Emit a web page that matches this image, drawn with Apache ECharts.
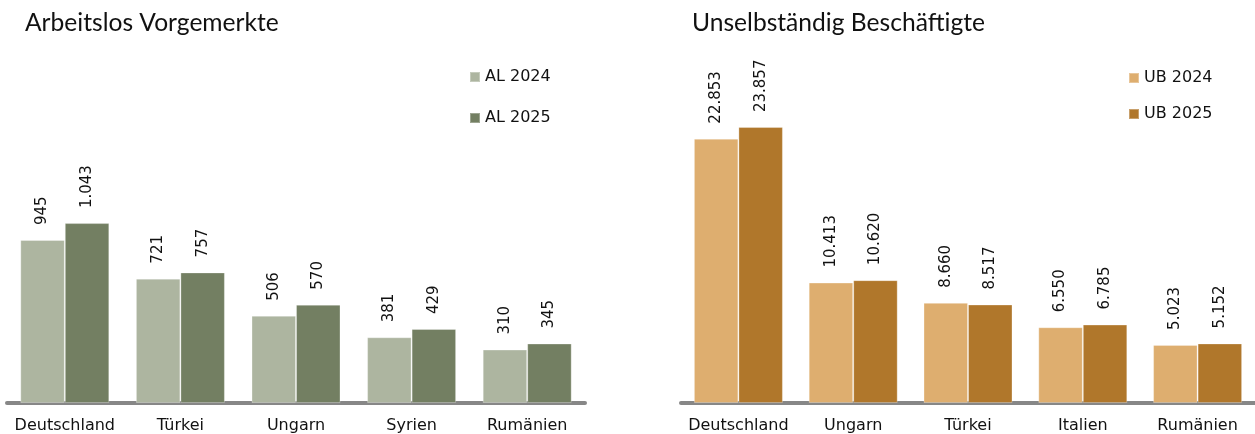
<!DOCTYPE html>
<html>
<head>
<meta charset="utf-8">
<script src="https://cdn.jsdelivr.net/npm/echarts@6/dist/echarts.min.js"></script>
<style>
  html, body { margin: 0; padding: 0; background: #fff; }
  #chart { width: 1255px; height: 434px; }
</style>
</head>
<body>
<div id="chart"></div>
<script>
// Arbeitslos Vorgemerkte
var alCategories = ['Deutschland', 'Türkei', 'Ungarn', 'Syrien', 'Rumänien']
var al2024 = [945, 721, 506, 381, 310]
var al2025 = [1043, 757, 570, 429, 345]

// Unselbständig Beschäftigte
var ubCategories = ['Deutschland', 'Ungarn', 'Türkei', 'Italien', 'Rumänien']
var ub2024 = [22853, 10413, 8660, 6550, 5023]
var ub2025 = [23857, 10620, 8517, 6785, 5152]

var labelFont = 'DejaVu Sans'

function fmt(v) {
  // deutsche Tausendertrennung
  return String(v).replace(/\B(?=(\d{3})+(?!\d))/g, '.')
}

function barLabel() {
  return {
    show: true,
    position: 'top',
    rotate: 90,
    align: 'left',
    verticalAlign: 'middle',
    distance: 15,
    fontFamily: labelFont,
    fontSize: 15,
    color: '#111',
    formatter: function (p) { return fmt(p.value) }
  }
}

function xAxisOf(idx, cats) {
  return {
    type: 'category',
    gridIndex: idx,
    data: cats,
    axisTick: { show: false },
    axisLine: { lineStyle: { color: '#878787', width: 4 } },
    axisLabel: { interval: 0, margin: 15, fontFamily: labelFont, fontSize: 16, color: '#111' }
  }
}

function yAxisOf(idx, max) {
  return {
    type: 'value',
    gridIndex: idx,
    min: 0,
    max: max,
    show: false,
    splitLine: { show: false }
  }
}

function barSeries(name, data, idx, color) {
  return {
    name: name,
    type: 'bar',
    xAxisIndex: idx,
    yAxisIndex: idx,
    data: data,
    barWidth: 44.5,
    barGap: '0%',
    itemStyle: { color: color, borderColor: 'rgba(255,255,255,0.3)', borderWidth: 1 },
    label: barLabel()
  }
}

var chart = echarts.init(document.getElementById('chart'))
chart.setOption({
  animation: false,
  title: [
    { text: 'Arbeitslos Vorgemerkte', left: 25, top: 11, padding: 0,
      textStyle: { fontFamily: 'Lato', fontSize: 24.6, fontWeight: 'normal', color: '#111' } },
    { text: 'Unselbständig Beschäftigte', left: 692, top: 11, padding: 0,
      textStyle: { fontFamily: 'Lato', fontSize: 24.6, fontWeight: 'normal', color: '#111' } }
  ],
  legend: [
    { data: ['AL 2024', 'AL 2025'], orient: 'vertical', left: 469, top: 69, padding: 0,
      itemWidth: 10, itemHeight: 10, itemGap: 25, icon: 'rect',
      textStyle: { fontFamily: labelFont, fontSize: 16, color: '#111' } },
    { data: ['UB 2024', 'UB 2025'], orient: 'vertical', left: 1128, top: 70, padding: 0,
      itemWidth: 10, itemHeight: 10, itemGap: 20, icon: 'rect',
      textStyle: { fontFamily: labelFont, fontSize: 16, color: '#111' } }
  ],
  grid: [
    { left: 7, width: 578, bottom: 30, height: 346 },
    { left: 681, width: 578, bottom: 30, height: 348 }
  ],
  xAxis: [xAxisOf(0, alCategories), xAxisOf(1, ubCategories)],
  yAxis: [yAxisOf(0, 2000), yAxisOf(1, 30000)],
  series: [
    barSeries('AL 2024', al2024, 0, '#adb5a0'),
    barSeries('AL 2025', al2025, 0, '#737f62'),
    barSeries('UB 2024', ub2024, 1, '#deae6f'),
    barSeries('UB 2025', ub2025, 1, '#b0772b')
  ]
})
</script>
</body>
</html>
